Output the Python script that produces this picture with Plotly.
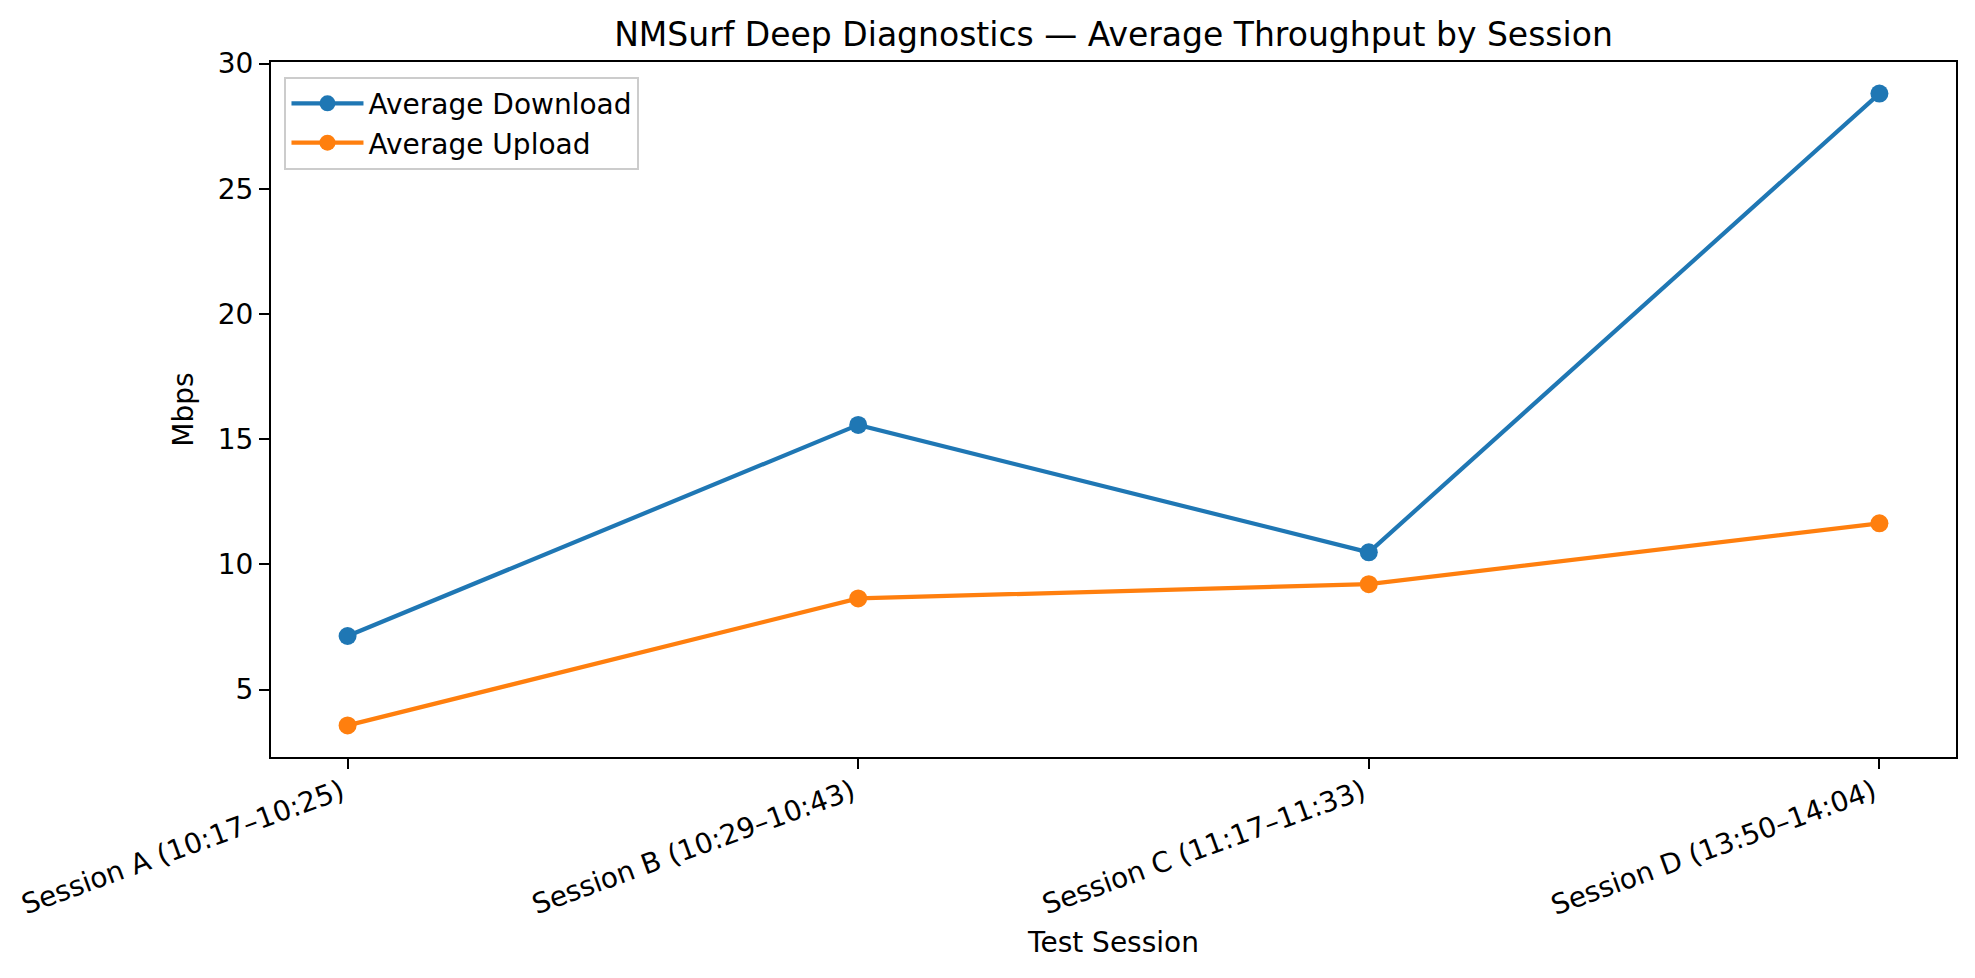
import plotly.graph_objects as go

sessions = [
    "Session A (10:17–10:25)",
    "Session B (10:29–10:43)",
    "Session C (11:17–11:33)",
    "Session D (13:50–14:04)",
]
avg_download = [7.14, 15.57, 10.48, 28.8]
avg_upload = [3.57, 8.64, 9.21, 11.64]
y_ticks = [5, 10, 15, 20, 25, 30]

x_idx = list(range(len(sessions)))
font_family = "DejaVu Sans, Liberation Sans, Arial, sans-serif"

fig = go.Figure()
fig.add_trace(go.Scatter(
    x=x_idx, y=avg_download, mode="lines+markers", name="Average Download",
    line=dict(color="#1f77b4", width=4.2),
    marker=dict(color="#1f77b4", size=18),
))
fig.add_trace(go.Scatter(
    x=x_idx, y=avg_upload, mode="lines+markers", name="Average Upload",
    line=dict(color="#ff7f0e", width=4.2),
    marker=dict(color="#ff7f0e", size=18),
))

allv = avg_download + avg_upload
lo, hi = min(allv), max(allv)
pad = 0.05 * (hi - lo)
n = len(sessions)
xpad = 0.05 * (n - 1)

fig.update_layout(
    width=1975, height=978,
    margin=dict(l=271, r=19, t=62, b=221),
    paper_bgcolor="white", plot_bgcolor="white",
    font=dict(family=font_family, size=28, color="black"),
    title=dict(
        text="NMSurf Deep Diagnostics — Average Throughput by Session",
        x=(271 + 1956) / 2 / 1975, xanchor="center",
        y=1 - 34 / 978, yanchor="middle",
        font=dict(size=33, color="black"),
    ),
    showlegend=True,
    legend=dict(
        x=0.008, y=0.979,
        xref="paper", yref="paper",
        xanchor="left", yanchor="top",
        bgcolor="rgba(255,255,255,0.8)",
        bordercolor="#cccccc", borderwidth=2,
        font=dict(size=28, color="black"),
        itemwidth=72,
        tracegroupgap=2,
    ),
)

fig.update_xaxes(
    range=[-xpad, n - 1 + xpad],
    tickmode="array", tickvals=x_idx, ticktext=sessions,
    tickangle=-20,
    ticklabelstandoff=-4,
    ticklabelshift=-6,
    showline=True, linecolor="black", linewidth=2.2, mirror=True,
    ticks="outside", ticklen=10, tickwidth=2.2, tickcolor="black",
    showgrid=False, zeroline=False,
    title=dict(text="Test Session", standoff=12, font=dict(size=28)),
    tickfont=dict(size=28),
)
fig.update_yaxes(
    range=[lo - pad, hi + pad],
    tickmode="array", tickvals=y_ticks,
    showline=True, linecolor="black", linewidth=2.2, mirror=True,
    ticks="outside", ticklen=10, tickwidth=2.2, tickcolor="black",
    showgrid=False, zeroline=False,
    title=dict(text="Mbps", standoff=16, font=dict(size=28)),
    tickfont=dict(size=28),
)

fig.write_html("out.html")
